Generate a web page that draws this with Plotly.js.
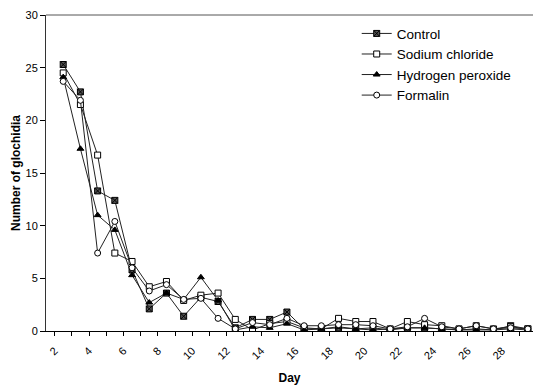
<!DOCTYPE html>
<html>
<head>
<meta charset="utf-8">
<script src="https://cdn.plot.ly/plotly-3.0.1.min.js"></script>
<style>html,body{margin:0;padding:0;background:#fff;}#chart{width:533px;height:392px;}</style>
</head>
<body>
<div id="chart"></div>
<script>
const days = [2,3,4,5,6,7,8,9,10,11,12,13,14,15,16,17,18,19,20,21,22,23,24,25,26,27,28,29];
const control = [25.3,22.7,13.3,12.4,5.8,2.1,3.6,1.4,3.2,2.8,0.3,1.1,1.1,1.8,0.2,0.2,0.3,0.2,0.3,0.1,0.3,0.3,0.2,0.1,0.2,0.1,0.5,0.2];
const sodiumChloride = [24.5,21.5,16.7,7.4,6.6,4.2,4.7,2.9,3.4,3.6,1.1,0.1,0.7,0.9,0.3,0.2,1.2,0.9,0.9,0.2,0.9,0.6,0.5,0.2,0.5,0.2,0.4,0.2];
const hydrogenPeroxide = [24.1,17.3,11.0,9.6,5.3,2.7,3.6,3.0,5.1,2.9,0.1,0.4,0.3,0.7,0.1,0.2,0.4,0.2,0.1,0.2,0.3,0.3,0.2,0.1,0.1,0.1,0.2,0.1];
const formalin = [23.7,21.9,7.4,10.4,6.0,3.8,4.4,3.0,3.1,1.2,0.2,0.8,0.6,1.2,0.5,0.5,0.6,0.6,0.5,0.2,0.4,1.2,0.4,0.2,0.5,0.2,0.3,0.2];
const seriesNames = ["Control","Sodium chloride","Hydrogen peroxide","Formalin"];
const xTickLabels = [2,4,6,8,10,12,14,16,18,20,22,24,26,28];
const yTicks = [0,5,10,15,20,25,30];

const font = "Liberation Sans, Arial, sans-serif";
const lineStyle = {color:"#222", width:1};
const traces = [
  {x:days, y:control, name:seriesNames[0], mode:"lines+markers", line:lineStyle,
   marker:{symbol:"square-x", size:6, color:"#555", line:{color:"#000", width:1}}},
  {x:days, y:sodiumChloride, name:seriesNames[1], mode:"lines+markers", line:lineStyle,
   marker:{symbol:"square", size:6, color:"#fff", line:{color:"#000", width:1}}},
  {x:days, y:hydrogenPeroxide, name:seriesNames[2], mode:"lines+markers", line:lineStyle,
   marker:{symbol:"triangle-up", size:6, color:"#000", line:{color:"#000", width:1}}},
  {x:days, y:formalin, name:seriesNames[3], mode:"lines+markers", line:lineStyle,
   marker:{symbol:"circle", size:6, color:"#fff", line:{color:"#000", width:1}}}
];

const layout = {
  width:533, height:392,
  margin:{l:46, r:0, t:15, b:61},
  paper_bgcolor:"#fff", plot_bgcolor:"#fff",
  font:{family:font, size:11, color:"#000"},
  showlegend:true,
  legend:{x:0.638, y:0.99, xanchor:"left", yanchor:"top", bgcolor:"rgba(0,0,0,0)",
          font:{family:font, size:13.5, color:"#000"}, itemwidth:30, tracegroupgap:0},
  xaxis:{
    range:[1, 29.3], showgrid:false, zeroline:false,
    showline:true, linecolor:"#000", linewidth:1,
    tickmode:"array", tickvals:xTickLabels.map(v => v - 0.5), ticktext:xTickLabels.map(String),
    tickangle:-45, ticks:"outside", ticklen:4, tickcolor:"#000", ticklabelstandoff:4,
    minor:{ticks:"outside", tick0:0.5, dtick:1, ticklen:4, tickcolor:"#000"},
    tickfont:{family:font, size:11, color:"#000"},
    title:{text:"<b>Day</b>", font:{family:font, size:12, color:"#000"}, standoff:12}
  },
  yaxis:{
    range:[0,30], showgrid:false, zeroline:false,
    showline:true, linecolor:"#333", linewidth:1,
    tickmode:"array", tickvals:yTicks, ticks:"outside", ticklen:5, tickcolor:"#000",
    tickfont:{family:font, size:11, color:"#000"},
    title:{text:"<b>Number of glochidia</b>", font:{family:font, size:12, color:"#000"}, standoff:2}
  },
  shapes:[{type:"line", xref:"paper", yref:"paper", x0:0, x1:1, y0:1, y1:1,
           line:{color:"#555", width:1}}]
};

Plotly.newPlot("chart", traces, layout, {displayModeBar:false, staticPlot:true});
</script>
</body>
</html>
